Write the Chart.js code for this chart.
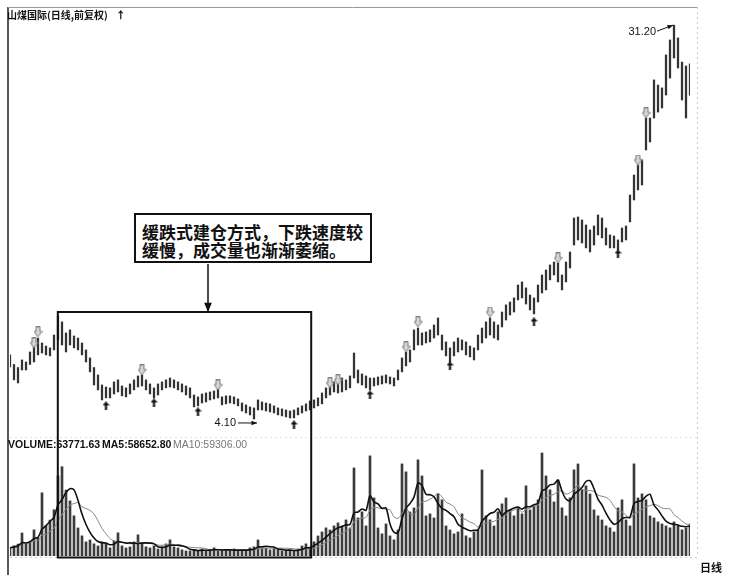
<!DOCTYPE html>
<html>
<head>
<meta charset="utf-8">
<script src="https://cdn.jsdelivr.net/npm/chart.js@4.4.1/dist/chart.umd.min.js"></script>
<style>
  body { margin: 0; background: #fff; }
  #wrap { position: relative; width: 730px; height: 576px; overflow: hidden; }
  #kline { position: absolute; left: 0; top: 0; }
  .lbl { position: absolute; white-space: nowrap; color: #111; }
  #title { left: 7px; top: 7px; font: 10px "Noto Sans CJK SC"; font-weight: 700; }
  .vol { top: 438px; font: 10.5px "Liberation Sans"; }
  #note {
    position: absolute; left: 134px; top: 213px; width: 238px; height: 50px;
    box-sizing: border-box; border: 2px solid #111; background: #fff;
    padding: 8px 0 0 6px; font: bold 17px "Noto Sans CJK SC"; line-height: 18px; color: #111;
  }
</style>
</head>
<body>
<div id="wrap">
  <canvas id="kline" width="730" height="576"></canvas>
  <div class="lbl" id="title">山煤国际(日线,前复权)<span style="margin-left:8px;font-weight:900">↑</span></div>
  <div class="lbl vol" style="left:8px;font-weight:600">VOLUME:63771.63</div>
  <div class="lbl vol" style="left:102px;font-weight:600">MA5:58652.80</div>
  <div class="lbl vol" style="left:173px;color:#777">MA10:59306.00</div>
  <div id="note">缓跌式建仓方式，下跌速度较<br>缓慢，成交量也渐渐萎缩。</div>
  <div class="lbl" style="left:700px;top:559px;font:bold 11px 'Noto Sans CJK SC'">日线</div>
</div>
<script>
// daily bars (price in yuan, volume in lots)
let highs = [
  8.51, 7.85, 7.64, 8.16, 8.02, 8.71, 9.19, 9.67, 9.33, 9.12,
  8.99, 9.88, 11.19, 10.78, 10.02, 10.23, 9.81, 9.67, 9.33, 8.85,
  8.30, 7.64, 7.13, 6.44, 6.30, 6.24, 6.65, 6.79, 6.37, 6.24,
  6.51, 6.79, 7.06, 7.13, 6.79, 6.51, 6.24, 6.51, 6.65, 6.79,
  6.92, 6.79, 6.65, 6.51, 6.37, 6.24, 5.75, 5.62, 5.82, 5.89,
  5.96, 6.03, 6.17, 5.62, 5.69, 5.69, 5.62, 5.48, 5.20, 5.07,
  4.93, 4.86, 5.41, 5.27, 5.20, 5.14, 5.00, 4.86, 4.79, 4.72,
  4.65, 4.72, 4.86, 5.00, 5.14, 5.34, 5.41, 5.55, 5.89, 6.24,
  6.51, 6.65, 6.58, 6.92, 6.79, 7.06, 8.64, 7.47, 7.20, 7.06,
  6.92, 6.92, 6.99, 7.06, 7.13, 6.99, 6.92, 7.47, 8.30, 8.71,
  8.85, 10.23, 10.36, 10.02, 10.09, 10.23, 10.57, 11.05, 9.88, 9.40,
  8.99, 9.40, 9.67, 9.54, 9.40, 9.12, 8.99, 9.88, 10.36, 10.78,
  11.05, 10.78, 10.57, 11.46, 11.95, 12.15, 12.43, 13.32, 13.53, 13.12,
  12.63, 12.43, 13.32, 14.01, 14.35, 14.70, 14.90, 14.84, 14.01, 14.90,
  15.59, 17.93, 18.00, 17.79, 17.45, 17.11, 17.38, 18.14, 17.93, 17.24,
  16.76, 16.69, 16.42, 17.24, 17.38, 19.51, 20.89, 21.58, 21.92, 24.81,
  24.81, 27.43, 27.08, 26.88, 29.15, 30.18, 31.20, 30.32, 28.66, 28.39,
  28.53
]
let lows = [
  7.68, 6.79, 6.58, 7.47, 7.47, 7.85, 8.02, 8.51, 8.64, 8.51,
  8.44, 8.85, 9.54, 9.19, 8.71, 9.19, 8.99, 8.85, 8.51, 8.02,
  7.34, 6.44, 6.10, 5.41, 5.55, 5.55, 5.82, 5.96, 5.69, 5.62,
  5.82, 6.10, 6.30, 6.37, 6.10, 5.82, 5.55, 5.75, 6.10, 6.24,
  6.30, 6.24, 6.10, 5.96, 5.75, 5.55, 4.93, 5.00, 5.20, 5.27,
  5.41, 5.48, 5.55, 5.07, 5.14, 5.20, 5.14, 5.00, 4.65, 4.51,
  4.38, 4.10, 4.72, 4.72, 4.65, 4.58, 4.51, 4.38, 4.31, 4.24,
  4.17, 4.17, 4.38, 4.51, 4.65, 4.72, 4.86, 5.00, 5.14, 5.55,
  5.75, 5.96, 5.89, 5.96, 6.10, 6.24, 6.92, 6.58, 6.44, 6.24,
  6.10, 6.37, 6.44, 6.51, 6.58, 6.51, 6.37, 6.79, 7.34, 7.75,
  8.02, 8.85, 9.19, 9.19, 9.33, 9.40, 9.67, 9.88, 8.85, 8.44,
  8.02, 8.44, 8.71, 8.85, 8.51, 8.37, 8.16, 8.85, 9.33, 9.67,
  9.88, 9.67, 9.54, 10.43, 10.91, 11.26, 11.46, 12.29, 12.43, 12.01,
  11.60, 11.33, 12.15, 12.77, 12.98, 13.67, 14.01, 13.53, 12.98, 13.53,
  14.49, 16.07, 16.42, 16.21, 15.87, 15.59, 16.07, 16.76, 16.56, 16.07,
  15.87, 15.87, 15.73, 16.28, 16.42, 17.66, 19.17, 19.86, 20.20, 22.61,
  23.16, 24.81, 25.22, 25.50, 26.39, 27.56, 28.94, 28.25, 26.05, 24.81,
  26.39
]
let volumes = [
  16200, 20400, 23800, 46100, 24300, 27900, 52300, 36200, 126400, 60300,
  71800, 92500, 160300, 178600, 131900, 110200, 80400, 56100, 40300, 28200,
  32100, 24300, 20100, 28300, 23900, 16300, 30200, 46300, 20200, 16100,
  18200, 28100, 42300, 24100, 18300, 16200, 20300, 14100, 18100, 24200,
  32300, 18200, 16100, 12300, 10200, 10100, 12200, 10300, 14200, 10100,
  12100, 16300, 10200, 12100, 10300, 12200, 14100, 10200, 12300, 10100,
  16200, 18300, 32200, 14300, 16100, 12200, 14100, 12300, 10200, 10100,
  12200, 10300, 14200, 20100, 24300, 16200, 28300, 40100, 48200, 56300,
  52100, 60200, 66300, 60100, 72200, 56300, 176200, 76100, 88300, 60200,
  200300, 116200, 56100, 44300, 64100, 40200, 32300, 52100, 184200, 168300,
  88100, 96200, 192300, 160100, 80200, 84300, 76100, 124200, 112300, 60100,
  52200, 44300, 48100, 84200, 40300, 36100, 48200, 52300, 172100, 80200,
  72300, 60100, 88200, 104300, 116100, 92200, 80300, 96100, 84200, 140300,
  92100, 100200, 112300, 206100, 160200, 132300, 108100, 152200, 96300, 80100,
  116200, 172300, 184100, 132200, 140300, 124100, 92200, 80300, 72100, 60200,
  56300, 48100, 96200, 112300, 72100, 60200, 184300, 116100, 124200, 112300,
  80100, 76200, 68300, 64100, 60200, 56300, 68100, 60200, 52300, 56100,
  63772
]

// signal arrows: gray ones above the bars, black ones under them
let downMarkDays = [6, 7, 33, 52, 80, 82, 99, 102, 120, 137, 157, 159]
let downMarkPrices = [9.33, 10.09, 7.47, 6.44, 6.58, 6.79, 9.06, 10.78, 11.46, 15.18, 21.92, 25.16]
let upMarkDays = [24, 36, 47, 71, 90, 110, 131, 152]
let upMarkPrices = [5.00, 5.20, 4.58, 3.69, 5.75, 7.75, 10.78, 15.46]

let days = highs.map((h, i) => String(i + 1))

function movingAvg(arr, n) {
  return arr.map((v, i) => {
    let part = arr.slice(Math.max(0, i - n + 1), i + 1)
    return part.reduce((a, b) => a + b, 0) / part.length
  })
}

function arrowImg(dir) {
  let c = document.createElement('canvas')
  let g
  if (dir === 'down') {
    c.width = 9; c.height = 11
    g = c.getContext('2d')
    g.beginPath()
    g.moveTo(2.5, 0.5); g.lineTo(6.5, 0.5); g.lineTo(6.5, 5); g.lineTo(8.5, 5)
    g.lineTo(4.5, 10.5); g.lineTo(0.5, 5); g.lineTo(2.5, 5); g.closePath()
    g.fillStyle = '#d6d6d6'; g.fill()
    g.strokeStyle = '#7a7a7a'; g.lineWidth = 1; g.stroke()
  } else {
    c.width = 7; c.height = 9
    g = c.getContext('2d')
    g.beginPath()
    g.moveTo(3.5, 0); g.lineTo(7, 4); g.lineTo(4.6, 4); g.lineTo(4.6, 9)
    g.lineTo(2.4, 9); g.lineTo(2.4, 4); g.lineTo(0, 4); g.closePath()
    g.fillStyle = '#111'; g.fill()
  }
  return c
}

function line(ctx, x1, y1, x2, y2) {
  ctx.beginPath(); ctx.moveTo(x1, y1); ctx.lineTo(x2, y2); ctx.stroke()
}

function arrow(ctx, x1, y1, x2, y2, size) {
  line(ctx, x1, y1, x2, y2)
  let a = Math.atan2(y2 - y1, x2 - x1)
  ctx.beginPath()
  ctx.moveTo(x2, y2)
  ctx.lineTo(x2 - size * Math.cos(a - 0.4), y2 - size * Math.sin(a - 0.4))
  ctx.lineTo(x2 - size * Math.cos(a + 0.4), y2 - size * Math.sin(a + 0.4))
  ctx.closePath(); ctx.fill()
}

// frame, the boxed phase, the callout arrow and the high/low labels
const annotations = {
  id: 'annotations',
  afterDatasetsDraw(chart) {
    let ctx = chart.ctx, xs = chart.scales.x, ys = chart.scales.y, yv = chart.scales.yv
    let area = chart.chartArea
    ctx.save()
    ctx.strokeStyle = '#222'; ctx.lineWidth = 1.5
    line(ctx, area.left - 2, 7, area.left - 2, 575)
    ctx.strokeStyle = '#999'; ctx.lineWidth = 1
    line(ctx, area.left - 2, 7.5, 697, 7.5)
    ctx.setLineDash([2, 3]); ctx.strokeStyle = '#c8c8c8'
    line(ctx, 697.5, 7, 697.5, area.bottom)
    ctx.strokeStyle = '#e2e2e2'
    line(ctx, area.left, 437.5, 697, 437.5)
    ctx.strokeStyle = '#c8c8c8'
    line(ctx, area.left, area.bottom + 1.5, 697, area.bottom + 1.5)
    ctx.setLineDash([])

    // box round the slow decline
    let bx1 = xs.getPixelForValue(11.95), bx2 = xs.getPixelForValue(75.3)
    let by1 = ys.getPixelForValue(11.46), by2 = yv.getPixelForValue(0) + 1.5
    ctx.strokeStyle = '#111'; ctx.fillStyle = '#111'; ctx.lineWidth = 2
    ctx.strokeRect(bx1, by1, bx2 - bx1, by2 - by1)

    // arrow from the note down to the box
    let ax = xs.getPixelForValue(49.5)
    ctx.lineWidth = 1.5
    arrow(ctx, ax, 264, ax, by1, 10)

    // low and high labels
    ctx.font = '11px "Liberation Sans"'
    ctx.textBaseline = 'middle'; ctx.textAlign = 'right'
    ctx.lineWidth = 1
    let lx = xs.getPixelForValue(61) + 3, ly = ys.getPixelForValue(4.10) + 4
    arrow(ctx, lx - 19, ly, lx, ly, 6)
    ctx.fillText('4.10', lx - 21, ly)
    let hx = xs.getPixelForValue(166) - 1, hy = ys.getPixelForValue(31.20)
    arrow(ctx, hx - 16, hy + 6, hx, hy, 6)
    ctx.fillText('31.20', hx - 17, hy + 7)
    ctx.restore()
  }
}

let config = {
  type: 'bar',
  data: {
    labels: days,
    datasets: [
      {
        type: 'line', data: downMarkDays.map((d, i) => ({x: days[d], y: downMarkPrices[i]})),
        yAxisID: 'y', showLine: false, pointStyle: arrowImg('down'), pointRadius: 5, order: 0
      },
      {
        type: 'line', data: upMarkDays.map((d, i) => ({x: days[d], y: upMarkPrices[i]})),
        yAxisID: 'y', showLine: false, pointStyle: arrowImg('up'), pointRadius: 4, order: 0
      },
      {
        type: 'line', data: movingAvg(volumes, 5), yAxisID: 'yv',
        borderColor: '#111', borderWidth: 1.6, pointRadius: 0, tension: 0.3, order: 1
      },
      {
        type: 'line', data: movingAvg(volumes, 10), yAxisID: 'yv',
        borderColor: '#8a8a8a', borderWidth: 1, pointRadius: 0, tension: 0.3, order: 2
      },
      {
        data: lows.map((l, i) => [l, highs[i]]), yAxisID: 'y',
        backgroundColor: '#333', barThickness: 1.6, grouped: false, order: 3
      },
      {
        data: volumes, yAxisID: 'yv',
        backgroundColor: '#3c3c3c', barThickness: 2, grouped: false, order: 4
      }
    ]
  },
  options: {
    responsive: false,
    animation: false,
    layout: { padding: { left: 10, right: 40, top: 8, bottom: 20 } },
    plugins: { legend: { display: false }, tooltip: { enabled: false } },
    scales: {
      x: { type: 'category', offset: false, display: false },
      y: { min: -5.33, max: 32.38, display: false },
      yv: { min: 0, max: 1096000, display: false }
    }
  },
  plugins: [annotations]
}

let klineChart = new Chart(document.querySelector('#kline'), config)
</script>
</body>
</html>
